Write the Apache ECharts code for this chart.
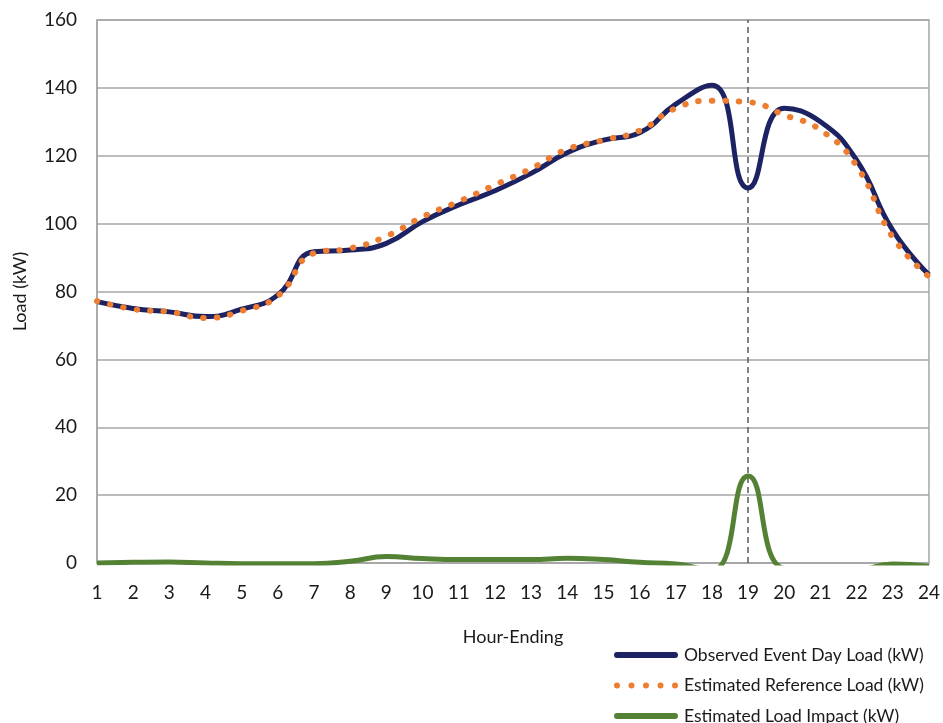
<!DOCTYPE html>
<html>
<head>
<meta charset="utf-8">
<script src="https://cdn.jsdelivr.net/npm/echarts@6/dist/echarts.min.js"></script>
<style>
html,body{margin:0;padding:0;background:#fff;}
#chart{width:943px;height:723px;}
</style>
</head>
<body>
<div id="chart"></div>
<script>
const hours = ['1','2','3','4','5','6','7','8','9','10','11','12','13','14','15','16','17','18','19','20','21','22','23','24'];
const observedLoad = [77, 75, 74, 72.6, 74.8, 79, 91.7, 92.2, 94.2, 100.6, 105.5, 109.7, 114.8, 120.9, 124.6, 126.8, 135.2, 140.8, 110.5, 134, 130, 118.7, 98, 84.9];
const referenceLoad = [77.2, 74.8, 74, 72.2, 74.3, 78.7, 91.3, 92.7, 96.3, 102, 106.5, 111.4, 116.2, 121.9, 124.6, 127.4, 134, 136.2, 135.8, 132, 127.6, 117, 96, 84.4];
const loadImpact = [0, 0.2, 0.3, 0, -0.2, -0.2, -0.2, 0.5, 1.9, 1.3, 1.0, 1.0, 1.0, 1.4, 1.0, 0.2, -0.3, -2.2, 25.6, -1.6, -2, -2, -0.3, -1];
const yTicks = {min: 0, max: 160, interval: 20};
const eventHour = '19';

const FONT = 'Lato';
const solidIcon = 'path://M3,0 L61,0 A3,3 0 0 1 61,6 L3,6 A3,3 0 0 1 3,0 Z';
const dotIcon = 'path://M0,3 A3,3 0 1 0 6,3 A3,3 0 1 0 0,3 Z M14.5,3 A3,3 0 1 0 20.5,3 A3,3 0 1 0 14.5,3 Z M29,3 A3,3 0 1 0 35,3 A3,3 0 1 0 29,3 Z M43.5,3 A3,3 0 1 0 49.5,3 A3,3 0 1 0 43.5,3 Z M58,3 A3,3 0 1 0 64,3 A3,3 0 1 0 58,3 Z';

const chart = echarts.init(document.getElementById('chart'), null, {renderer: 'canvas'});
chart.setOption({
  animation: false,
  textStyle: {fontFamily: FONT, color: '#1a1a1a'},
  grid: {left: 97, right: 13, top: 20, bottom: 160, show: true, borderColor: '#a6a6a6', borderWidth: 1.5},
  xAxis: {
    type: 'category', data: hours, boundaryGap: false,
    name: 'Hour-Ending', nameLocation: 'middle', nameGap: 65,
    nameTextStyle: {fontSize: 18, color: '#1a1a1a', fontFamily: FONT},
    axisLine: {lineStyle: {color: '#a6a6a6', width: 1.5}},
    axisTick: {show: false},
    axisLabel: {fontSize: 19, color: '#1a1a1a', margin: 20, fontFamily: FONT},
    splitLine: {show: false}
  },
  yAxis: {
    type: 'value', min: yTicks.min, max: yTicks.max, interval: yTicks.interval,
    name: 'Load (kW)', nameLocation: 'middle', nameGap: 68, nameRotate: 90,
    nameTextStyle: {fontSize: 18, color: '#1a1a1a', fontFamily: FONT},
    axisLine: {show: true, lineStyle: {color: '#a6a6a6', width: 1.5}},
    axisTick: {show: false},
    axisLabel: {fontSize: 19, color: '#1a1a1a', margin: 20, fontFamily: FONT},
    splitLine: {lineStyle: {color: '#a6a6a6', width: 1.5}}
  },
  legend: {
    orient: 'vertical', left: 614, top: 646, height: 80, padding: 0,
    itemWidth: 64, itemHeight: 6, itemGap: 12.5,
    textStyle: {fontSize: 17.5, color: '#1a1a1a', fontFamily: FONT, padding: [0, 0, 0, 1]},
    data: [
      {name: 'Observed Event Day Load (kW)', icon: solidIcon},
      {name: 'Estimated Reference Load (kW)', icon: dotIcon},
      {name: 'Estimated Load Impact (kW)', icon: solidIcon}
    ]
  },
  series: [
    {
      name: 'Estimated Load Impact (kW)', type: 'line', data: loadImpact, smooth: 0.5,
      symbol: 'none', clip: true, z: 2,
      lineStyle: {color: '#548235', width: 5},
      itemStyle: {color: '#548235'}
    },
    {
      name: 'Estimated Reference Load (kW)', type: 'line', data: referenceLoad, smooth: 0.5,
      symbol: 'none', z: 4,
      lineStyle: {color: '#ED7D31', width: 6, type: [0.5, 13], cap: 'round'},
      itemStyle: {color: '#ED7D31'}
    },
    {
      name: 'Observed Event Day Load (kW)', type: 'line', data: observedLoad, smooth: 0.5,
      symbol: 'none', z: 3,
      lineStyle: {color: '#1c2262', width: 5},
      itemStyle: {color: '#1c2262'},
      markLine: {
        silent: true, symbol: 'none', z: 1,
        label: {show: false},
        lineStyle: {color: '#595959', width: 1.5, type: [6, 4]},
        data: [{xAxis: eventHour}]
      }
    }
  ]
});
</script>
</body>
</html>
